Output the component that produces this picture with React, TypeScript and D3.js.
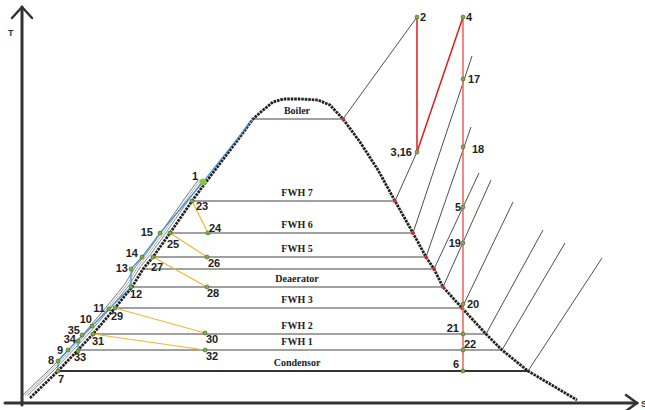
import * as d3 from 'd3';

// T-s diagram, arbitrary units: s (entropy) along x, T along y
const width = 645;
const height = 410;

// saturation dome, left branch bottom -> top, then right branch top -> bottom
const domeLeft: [number, number][] = [
  [0.16, 1.25], [0.72, 8], [1.12, 13.25], [1.42, 17.25], [1.86, 23.75], [2.2, 29],
  [2.42, 33.5], [2.62, 36.5], [2.96, 42.5], [3.4, 50.5], [3.68, 55.25], [4.36, 66.5],
  [4.62, 71], [4.8, 73], [5.02, 75.25], [5.22, 76], [5.56, 76],
];
const domeRight: [number, number][] = [
  [5.56, 76], [5.92, 75.75], [6.16, 74.5], [6.42, 71], [6.76, 65.25], [7.12, 58.25],
  [7.46, 50.5], [7.82, 42.5], [8.08, 36.5], [8.24, 33.5], [8.42, 29], [8.8, 23.75],
  [9.28, 17.25], [9.6, 13.25], [10.12, 8], [11.1, 0.75],
];

// heater / boiler pressure levels (temperature)
const heaterNames = ['Boiler', 'FWH 7', 'FWH 6', 'FWH 5', '', 'Deaerator', 'FWH 3', 'FWH 2', 'FWH 1', 'Condensor'];
const heaterT = [71, 50.5, 42.5, 36.5, 33.5, 29, 23.75, 17.25, 13.25, 8];

// top end of each expansion / extraction line drawn from the right branch
const extractionTips: [number, number][] = [
  [7.9, 96.5], [7.9, 62.75], [9.0, 86.75], [8.98, 69], [9.14, 57.5],
  [9.38, 55.75], [9.82, 50.25], [10.42, 43.25], [10.86, 40], [11.6, 36.25],
];

// state points
const pointNames = ['1', '2', '3,16', '4', '5', '6', '7', '8', '9', '10', '11', '12', '13', '14', '15',
  '17', '18', '19', '20', '21', '22', '23', '24', '25', '26', '27', '28', '29', '30', '31', '32', '33', '34', '35'];
const pointS = [3.62, 7.9, 7.9, 8.82, 8.82, 8.82, 0.72, 0.72, 0.92, 1.4, 1.74, 2.18, 2.18, 2.4, 2.76,
  8.82, 8.82, 8.82, 8.82, 8.82, 8.82, 3.4, 3.72, 2.96, 3.7, 2.62, 3.7, 1.86, 3.66, 1.42, 3.66, 1.12, 1.12, 1.2];
const pointT = [55.25, 96.5, 62.75, 96.5, 49, 8, 8, 10.5, 13.25, 19.25, 23.5, 29, 33.5, 36.5, 42.5,
  81, 64, 40, 24.75, 17.25, 13.25, 50.5, 42.5, 42.5, 36.5, 36.5, 29, 23.75, 17.5, 17.25, 13.25, 13, 15.5, 17];

// feedwater path (blue) and pumps
const feedPath = ['7', '8', '9', '10', '11', '12', '13', '14', '15', '1'];
const pumpLinks: [string, string][] = [['33', '34']];
// throttled drains (yellow)
const drainLinks: [string, string][] = [['23', '24'], ['25', '26'], ['27', '28'], ['29', '30'], ['31', '32']];
// turbine (red)
const turbineLinks: [string, string][] = [['2', '3,16'], ['3,16', '4']];

// label placement [dx, dy, anchor]
const labelPos: Record<string, [number, number, string]> = {
  '1': [-5, -2, 'end'], '2': [3, 4, 'start'], '3,16': [-5, 4, 'end'], '4': [3, 4, 'start'],
  '5': [-2, 4, 'end'], '6': [-4, -3, 'end'], '7': [0, 12, 'start'], '8': [-4, 3, 'end'],
  '9': [-5, 4, 'end'], '10': [0, -3, 'end'], '11': [-4, 3, 'end'], '12': [-1, 11, 'start'],
  '13': [-3, 3, 'end'], '14': [-4, 0, 'end'], '15': [-7, 3, 'end'], '17': [5, 4, 'start'],
  '18': [9, 6, 'start'], '19': [-2, 4, 'end'], '20': [4, 4, 'start'], '21': [-4, -2, 'end'],
  '22': [1, -2, 'start'], '23': [4, 9, 'start'], '24': [1, -1, 'start'], '25': [-3, 15, 'start'],
  '26': [1, 10, 'start'], '27': [-2, 14, 'start'], '28': [0, 10, 'start'], '29': [-4, 12, 'start'],
  '30': [1, 10, 'start'], '31': [-1, 11, 'start'], '32': [1, 10, 'start'], '33': [-4, 10, 'start'],
  '34': [-2, 2, 'end'], '35': [-2, -1, 'end'],
};

const x = d3.scaleLinear().domain([0, 12.4]).range([22, 642]);
const y = d3.scaleLinear().domain([0, 100]).range([403, 3]);

const sAt = (branch: [number, number][], t: number) => {
  for (let i = 0; i < branch.length - 1; i++) {
    const [s0, t0] = branch[i];
    const [s1, t1] = branch[i + 1];
    if ((t - t0) * (t - t1) <= 0 && t0 !== t1) return s0 + ((t - t0) / (t1 - t0)) * (s1 - s0);
  }
  return branch[0][0];
};

const pt = (name: string): [number, number] => {
  const i = pointNames.indexOf(name);
  return [pointS[i], pointT[i]];
};

const App = () => {
  const line = d3.line<[number, number]>().x(d => x(d[0])).y(d => y(d[1]));
  const dome = [...domeLeft, ...domeRight.slice(1)];
  const lowerLeft = domeLeft.filter(d => d[1] <= 56);
  const shifted = (dx: number) => d3.line<[number, number]>().x(d => x(d[0]) + dx).y(d => y(d[1] + 0.6))(lowerLeft) || '';
  const boilerLeft: [number, number] = [sAt(domeLeft, heaterT[0]), heaterT[0]];
  const bottom = y(0);

  return (
    <div style={{ position: 'absolute', left: 0, top: 0, background: '#fff' }}>
      <svg width={width} height={height} style={{ display: 'block' }}>
        {/* axes */}
        <g stroke="#333" fill="none" strokeLinecap="round">
          <line x1={x(0)} y1={bottom + 2} x2={x(0)} y2={7} strokeWidth={3} />
          <polyline points={`${x(0) - 10},18 ${x(0)},7 ${x(0) + 10},18`} strokeWidth={2.5} />
          <line x1={5} y1={bottom} x2={637} y2={bottom} strokeWidth={3} />
          <polyline points={`626,${bottom - 8} 637,${bottom} 626,${bottom + 8}`} strokeWidth={2.5} />
        </g>
        <text x={8} y={36} fontFamily="Liberation Sans" fontWeight="bold" fontSize={9} fill="#333">T</text>
        <text x={641} y={407} fontFamily="Liberation Sans" fontWeight="bold" fontSize={9} fill="#333">S</text>

        {/* bundle of liquid lines along the left branch */}
        <path d={shifted(-2.5)} stroke="#666" strokeWidth={0.8} fill="none" />
        <path d={shifted(-5)} stroke="#999" strokeWidth={0.8} fill="none" />
        <path d={shifted(-7.5)} stroke="#555" strokeWidth={0.8} fill="none" />

        {/* heater lines */}
        {heaterT.map((t, i) => {
          const sl = sAt(domeLeft, t);
          const sr = sAt(domeRight, t);
          const last = i === heaterT.length - 1;
          return (
            <g key={i}>
              <line x1={x(sl)} x2={x(sr)} y1={y(t)} y2={y(t)} stroke={last ? '#333' : '#444'} strokeWidth={last ? 2 : 1.2} />
              {heaterNames[i] && (
                <text x={x(5.5)} y={y(t) - 5} textAnchor="middle" fontFamily="Liberation Serif" fontWeight="bold" fontSize={10} fill="#222">
                  {heaterNames[i]}
                </text>
              )}
            </g>
          );
        })}

        {/* extraction lines */}
        {extractionTips.map((tip, i) => {
          const t = heaterT[i];
          return <line key={i} x1={x(sAt(domeRight, t))} y1={y(t)} x2={x(tip[0])} y2={y(tip[1])} stroke="#222" strokeWidth={0.8} />;
        })}

        {/* dome */}
        <path d={line(dome) || ''} fill="none" stroke="#222" strokeWidth={2.8} strokeDasharray="2.6 0.9" />
        {heaterT.slice(0, 7).map((t, i) => (
          <circle key={i} cx={x(sAt(domeRight, t))} cy={y(t)} r={2} fill="#d33" opacity={0.8} />
        ))}

        {/* feedwater */}
        <path d={line([...feedPath.map(pt), boilerLeft]) || ''} fill="none" stroke="#3a8fd8" strokeWidth={1.2} />
        {pumpLinks.map(([a, b], i) => (
          <path key={i} d={line([pt(a), pt(b)]) || ''} stroke="#3a8fd8" strokeWidth={1.2} fill="none" />
        ))}

        {/* drains */}
        {drainLinks.map(([a, b], i) => (
          <path key={i} d={line([pt(a), pt(b)]) || ''} stroke="#f2b630" strokeWidth={1.2} fill="none" />
        ))}

        {/* turbine */}
        <line x1={x(pt('4')[0])} y1={y(pt('4')[1])} x2={x(pt('6')[0])} y2={y(pt('6')[1])} stroke="#f06a6a" strokeWidth={1.6} />
        {turbineLinks.map(([a, b], i) => (
          <path key={i} d={line([pt(a), pt(b)]) || ''} stroke="#e01b1b" strokeWidth={1.5} fill="none" />
        ))}

        {/* state points */}
        {pointNames.map((n, i) => {
          const cx = x(pointS[i]);
          const cy = y(pointT[i]);
          const [dx, dy, anchor] = labelPos[n];
          return (
            <g key={n}>
              {n === '1'
                ? <circle cx={cx} cy={cy} r={3.5} fill="#8bc34a" />
                : <circle cx={cx} cy={cy} r={2} fill="#7cb342" stroke="#3d5e22" strokeWidth={0.6} />}
              <text x={cx + dx} y={cy + dy} textAnchor={anchor as any} fontFamily="Liberation Sans" fontWeight="bold" fontSize={11} fill="#222">
                {n}
              </text>
            </g>
          );
        })}
      </svg>
    </div>
  );
};

export default App;
